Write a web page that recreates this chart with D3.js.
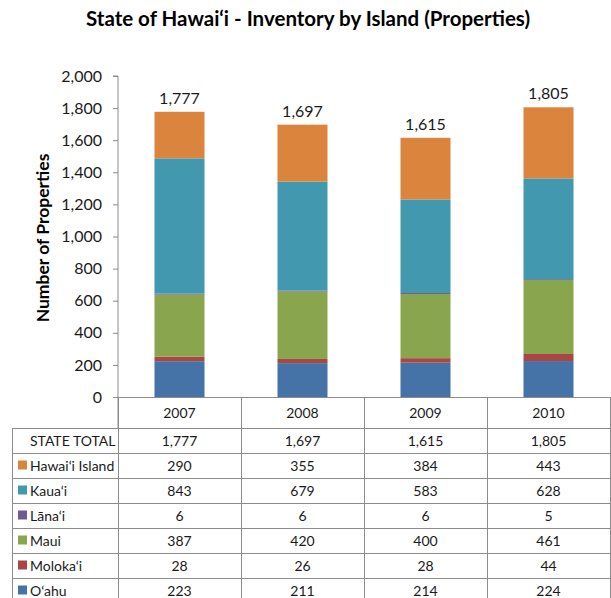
<!DOCTYPE html>
<html><head><meta charset="utf-8">
<script src="https://cdn.jsdelivr.net/npm/d3@7"></script>
<style>
body{margin:0;background:#fff;}
svg{display:block;font-family:Lato,"Open Sans",sans-serif;}
</style></head>
<body><svg id="c" width="611" height="598"></svg>
<script>
const years = ["2007","2008","2009","2010"];
const islands = ["Hawai‘i Island","Kaua‘i","Lāna‘i","Maui","Moloka‘i","O‘ahu"];
const colors = ["#DB843D","#4198AF","#71588F","#89A54E","#AA4643","#4572A7"];
const hawaii = [290,355,384,443];
const kauai = [843,679,583,628];
const lanai = [6,6,6,5];
const maui = [387,420,400,461];
const molokai = [28,26,28,44];
const oahu = [223,211,214,224];
const totals = [1777,1697,1615,1805];
const yTicks = [0,200,400,600,800,1000,1200,1400,1600,1800,2000];
const title = "State of Hawai‘i - Inventory by Island (Properties)";
const yTitle = "Number of Properties";

const seriesVals = [hawaii,kauai,lanai,maui,molokai,oahu];
const rows = years.map((y,i)=>{const o={year:y};islands.forEach((k,j)=>o[k]=seriesVals[j][i]);return o;});
// stack from bottom: O'ahu, Moloka'i, Maui, Lana'i, Kaua'i, Hawai'i
const stackKeys = islands.slice().reverse();
const stacked = d3.stack().keys(stackKeys)(rows);
const color = d3.scaleOrdinal().domain(islands).range(colors);

const svg = d3.select("#c");
const L=118,R=610,T=76,B=397;
const p = 73/123;
const x = d3.scaleBand().domain(years).range([L,R]).paddingInner(p).paddingOuter(p/2);
const y = d3.scaleLinear().domain([0,2000]).range([B,T]);
const gridCol = "#8c8c8c";

svg.append("text").attr("x",308).attr("y",26).attr("text-anchor","middle")
  .attr("font-size",20.5).attr("font-weight","bold").attr("fill","#000").text(title);

svg.append("text").attr("transform",`translate(49,238) rotate(-90)`).attr("text-anchor","middle")
  .attr("font-size",17.5).attr("font-weight","bold").attr("fill","#000").text(yTitle);

// bars
svg.append("g").selectAll("g").data(stacked).join("g").attr("fill",d=>color(d.key))
  .selectAll("rect").data(d=>d).join("rect")
  .attr("x",d=>x(d.data.year)).attr("width",x.bandwidth())
  .attr("y",d=>y(d[1])).attr("height",d=>y(d[0])-y(d[1]));

// totals
svg.append("g").selectAll("text").data(years).join("text")
  .attr("x",d=>x(d)+x.bandwidth()/2).attr("y",(d,i)=>y(totals[i])-8)
  .attr("text-anchor","middle").attr("font-size",16).attr("fill","#1a1a1a")
  .text((d,i)=>d3.format(",")(totals[i]));

// y axis
const yAxis = d3.axisLeft(y).tickValues(yTicks).tickFormat(d3.format(",")).tickSize(5).tickPadding(11);
const ga = svg.append("g").attr("transform",`translate(${L},0)`).call(yAxis);
ga.select(".domain").attr("stroke",gridCol).attr("d",`M-5,${T}H0V428`);
ga.selectAll(".tick line").attr("stroke",gridCol);
ga.selectAll(".tick text").attr("font-size",16).attr("fill","#1a1a1a").attr("font-family","Lato,sans-serif");

// table
const rowH=25, top0=428;
const tbl = svg.append("g");
const lineAttr = s=>s.attr("stroke",gridCol).attr("stroke-width",1).attr("fill","none");
tbl.append("line").attr("x1",L-5).attr("x2",R).attr("y1",B+0.5).attr("y2",B+0.5).call(lineAttr);
const bounds = years.map(d=>x(d)-x.step()*p/2).concat([R]);
bounds.forEach(b=>tbl.append("line").attr("x1",Math.round(b)+0.5).attr("x2",Math.round(b)+0.5).attr("y1",B).attr("y2",610).call(lineAttr));
tbl.append("line").attr("x1",12.5).attr("x2",12.5).attr("y1",top0).attr("y2",610).call(lineAttr);
for(let r=0;r<8;r++){
  tbl.append("line").attr("x1",12).attr("x2",R).attr("y1",top0+r*rowH+0.5).attr("y2",top0+r*rowH+0.5).call(lineAttr);
}
tbl.selectAll("text.yr").data(years).join("text").attr("class","yr")
  .attr("x",d=>x(d)+x.bandwidth()/2).attr("y",418).attr("text-anchor","middle")
  .attr("font-size",14).attr("fill","#1a1a1a").text(d=>d);
const rowLabels = ["STATE TOTAL"].concat(islands);
const rowData = [totals].concat(seriesVals);
rowLabels.forEach((lab,r)=>{
  const cy = top0 + r*rowH + rowH/2;
  if(r>0){
    tbl.append("rect").attr("x",18).attr("y",cy-5).attr("width",9).attr("height",9).attr("fill",colors[r-1]);
  }
  tbl.append("text").attr("x",30).attr("y",cy+5).attr("font-size",14).attr("fill","#1a1a1a").text(lab);
  years.forEach((yr,i)=>{
    tbl.append("text").attr("x",x(yr)+x.bandwidth()/2).attr("y",cy+5).attr("text-anchor","middle")
      .attr("font-size",14).attr("fill","#1a1a1a").text(d3.format(",")(rowData[r][i]));
  });
});
</script></body></html>
